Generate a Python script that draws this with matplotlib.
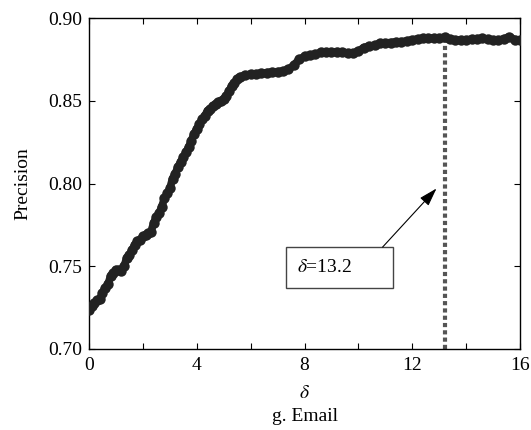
import numpy as np
import matplotlib.pyplot as plt
from matplotlib.patches import Rectangle

# precision vs delta
delta = [0.0, 0.1, 0.2, 0.3, 0.4, 0.5, 0.6, 0.7, 0.8, 0.9, 1.0, 1.1, 1.2, 1.3,
         1.4, 1.5, 1.6, 1.7, 1.8, 1.9, 2.0, 2.1, 2.2, 2.3, 2.4, 2.5, 2.6, 2.7,
         2.8, 2.9, 3.0, 3.1, 3.2, 3.3, 3.4, 3.5, 3.6, 3.7, 3.8, 3.9, 4.0, 4.1,
         4.2, 4.3, 4.4, 4.5, 4.6, 4.7, 4.8, 4.9, 5.0, 5.1, 5.2, 5.3, 5.4, 5.5,
         5.6, 5.8, 6.0, 6.2, 6.4, 6.6, 6.8, 7.0, 7.2, 7.4, 7.6, 7.8, 8.0, 8.2,
         8.4, 8.6, 8.8, 9.0, 9.2, 9.4, 9.6, 9.8, 10.0, 10.2, 10.4, 10.6, 10.8,
         11.0, 11.2, 11.4, 11.6, 11.8, 12.0, 12.2, 12.4, 12.6, 12.8, 13.0, 13.2,
         13.4, 13.6, 13.8, 14.0, 14.2, 14.4, 14.6, 14.8, 15.0, 15.2, 15.4, 15.6,
         15.8, 16.0, 16.1]
precision = [0.7236, 0.726, 0.728, 0.7296, 0.730, 0.734, 0.737, 0.739, 0.744,
             0.746, 0.748, 0.748, 0.747, 0.750, 0.755, 0.757, 0.760, 0.763, 0.765,
             0.766, 0.768, 0.769, 0.770, 0.771, 0.776, 0.780, 0.782, 0.786, 0.791,
             0.794, 0.797, 0.803, 0.806, 0.810, 0.813, 0.816, 0.819, 0.822, 0.826,
             0.830, 0.833, 0.836, 0.839, 0.841, 0.844, 0.845, 0.847, 0.848, 0.849,
             0.850, 0.851, 0.853, 0.856, 0.859, 0.861, 0.863, 0.8645, 0.8655, 0.866,
             0.8663, 0.8666, 0.867, 0.8674, 0.8676, 0.868, 0.869, 0.8715, 0.875,
             0.8768, 0.8775, 0.878, 0.8792, 0.8796, 0.8795, 0.8797, 0.8795, 0.8788,
             0.8786, 0.880, 0.8822, 0.883, 0.8835, 0.8847, 0.885, 0.8852, 0.8856,
             0.8857, 0.8862, 0.8868, 0.8874, 0.8877, 0.8878, 0.8878, 0.888, 0.8883,
             0.8872, 0.8868, 0.8867, 0.8868, 0.8872, 0.8875, 0.8877, 0.8872, 0.8866,
             0.8866, 0.8874, 0.8887, 0.887, 0.8867, 0.8867]

best_delta = 13.2
best_precision = 0.8883

plt.rcParams['font.family'] = ['Liberation Serif', 'DejaVu Serif']
plt.rcParams['mathtext.fontset'] = 'stix'
plt.rcParams['font.size'] = 14

fig = plt.figure(figsize=(5.31, 4.30), dpi=100)
ax = fig.add_axes([0.1676, 0.1884, 0.8117, 0.7696])

ax.plot(delta, precision, color='#222222', lw=5.5, marker='o', ms=7.5,
        markeredgewidth=0, solid_capstyle='round', solid_joinstyle='round',
        clip_on=True, zorder=3)

# vertical marker at the chosen delta
ax.plot([best_delta, best_delta], [0.70, best_precision], color='#555555',
        lw=3.0, linestyle=(0, (1.0, 0.75)), dash_capstyle='butt', zorder=2)

# text box with arrow
ax.add_patch(Rectangle((7.3, 0.7369), 3.97, 0.0247, facecolor='white',
                       edgecolor='#444444', lw=1.0, zorder=4))
ax.text(7.71, 0.7492, r'$\delta$=13.2', ha='left', va='center', fontsize=14, zorder=5)
ax.annotate('', xy=(12.9, 0.797), xytext=(10.9, 0.7616),
            arrowprops=dict(arrowstyle='-|>,head_length=0.8,head_width=0.25',
                            color='black', lw=0.8, shrinkA=0, shrinkB=0), zorder=5)

ax.set_xlim(0, 16)
ax.set_ylim(0.70, 0.90)
ax.set_xticks([0, 4, 8, 12, 16])
ax.set_xticks([2, 6, 10, 14], minor=True)
ax.set_yticks([0.70, 0.75, 0.80, 0.85, 0.90])
ax.set_yticklabels(['0.70', '0.75', '0.80', '0.85', '0.90'])
ax.tick_params(which='both', direction='in', top=True, right=True, length=4, width=0.8)
ax.tick_params(axis='x', pad=6)
ax.tick_params(axis='y', pad=5)
for s in ax.spines.values():
    s.set_linewidth(1.0)

ax.set_ylabel('Precision', fontsize=14, labelpad=12)
ax.set_xlabel(r'$\delta$' + '\n' + 'g. Email', fontsize=14, labelpad=8, linespacing=1.45)

fig.savefig('out.png', dpi=100)
